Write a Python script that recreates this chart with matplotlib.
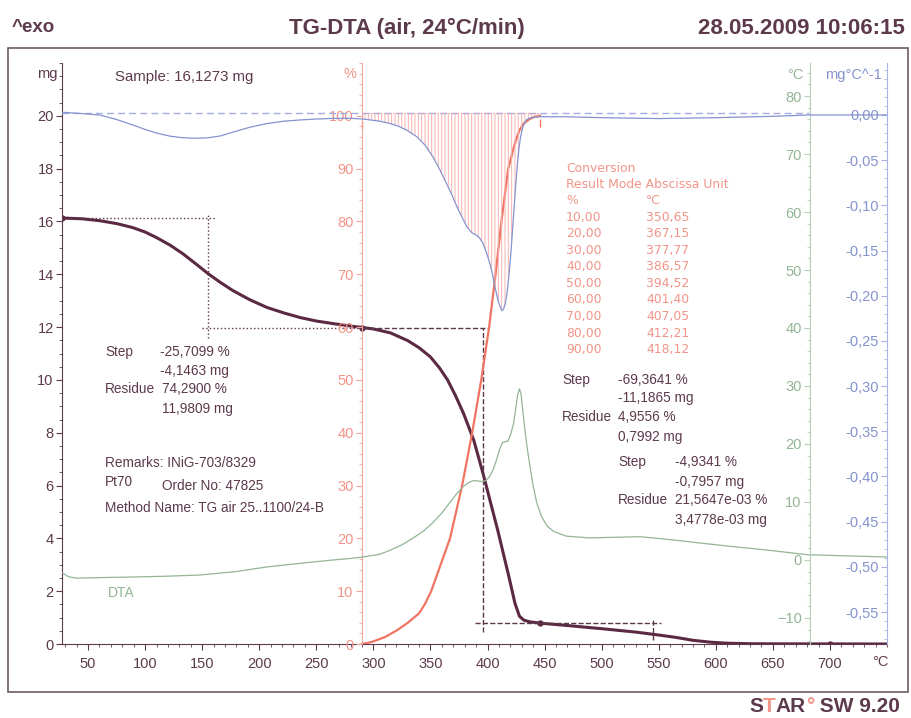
import numpy as np
import matplotlib
matplotlib.use('Agg')
import matplotlib.pyplot as plt
from matplotlib.ticker import MultipleLocator, FixedLocator, FuncFormatter
from matplotlib.patches import Rectangle

W, H = 912, 718

plt.rcParams['font.family'] = ['Liberation Sans', 'DejaVu Sans']
plt.rcParams['hatch.linewidth'] = 0.7

# kleuren
c_tg = '#5b2a42'
c_txt = '#5c3a4c'
c_red = '#f07462'
c_red_lbl = '#f29488'
c_green = '#93b595'
c_blue = '#8593cf'
c_frame = '#6d5c6a'

tg_temp = [27.5, 45, 60, 75, 89, 100, 110, 122, 133, 144, 155, 166, 177, 192, 207, 222,
           236, 250, 265, 280, 291, 300, 315, 330, 340, 350, 358, 365, 372, 379, 388, 396,
           403, 409, 414, 419, 424, 428, 432, 437, 446, 470, 500, 530, 550, 565, 580, 595,
           610, 630, 660, 700, 750]
tg_mg = [16.13, 16.1, 16.03, 15.92, 15.77, 15.6, 15.39, 15.1, 14.78, 14.41, 14.03, 13.69,
         13.38, 13.03, 12.74, 12.53, 12.36, 12.23, 12.13, 12.04, 11.98, 11.93, 11.78, 11.49,
         11.22, 10.87, 10.45, 10.0, 9.4, 8.73, 7.71, 6.47, 5.3, 4.3, 3.4, 2.5, 1.55, 1.05,
         0.9, 0.84, 0.79, 0.70, 0.58, 0.45, 0.34, 0.25, 0.14, 0.07, 0.03, 0.01, 0.005,
         0.0035, 0.0]

# conversie (%), tabelwaarden uit het rapport
conv_temp = [290, 295, 300, 310, 320, 330, 340, 345, 350.65, 367.15, 377.77, 386.57,
             394.52, 401.40, 407.05, 412.21, 418.12, 424, 428, 432, 437, 441, 446]
conv_pct = [0, 0.2, 0.5, 1.3, 2.5, 4.0, 5.8, 7.5, 10, 20, 30, 40, 50, 60, 70, 80, 90,
            94.8, 97.3, 98.6, 99.4, 99.8, 100]
conv_tab_pct = ['10,00', '20,00', '30,00', '40,00', '50,00', '60,00', '70,00', '80,00', '90,00']
conv_tab_temp = ['350,65', '367,15', '377,77', '386,57', '394,52', '401,40', '407,05',
                 '412,21', '418,12']

# DTG (mg/°C)
dtg_temp = [27.5, 45, 60, 75, 89, 100, 110, 122, 133, 143, 155, 166, 177, 192, 207, 222,
            236, 250, 265, 280, 291, 305, 314, 322, 329, 338, 345, 352, 358, 364, 369, 373,
            378, 382, 386, 390, 393, 396, 399, 402, 404.5, 406.5, 409, 411, 412.5, 414,
            415.5, 417, 418.5, 420, 421.5, 423, 424.5, 426, 427.5, 429, 431, 434, 438, 446,
            470, 500, 550, 600, 650, 682, 750]
dtg_val = [0.003, 0.0015, 0.0, -0.005, -0.011, -0.016, -0.020, -0.0235, -0.0252, -0.0258,
           -0.0253, -0.0232, -0.019, -0.0135, -0.0095, -0.0068, -0.0055, -0.0045, -0.0038,
           -0.0037, -0.0045, -0.0068, -0.0092, -0.0125, -0.0166, -0.024, -0.033, -0.046,
           -0.06, -0.0756, -0.089, -0.101, -0.114, -0.124, -0.13, -0.133, -0.136, -0.142,
           -0.152, -0.164, -0.177, -0.19, -0.204, -0.212, -0.2165, -0.215, -0.209, -0.198,
           -0.181, -0.16, -0.135, -0.108, -0.081, -0.057, -0.038, -0.024, -0.013, -0.0055,
           -0.003, -0.002, -0.002, -0.003, -0.004, -0.003, -0.0015, 0.0, 0.0]
dtg_base = 0.002

# DTA (°C)
dta_temp = [27.5, 33, 40, 60, 89, 120, 148, 180, 207, 240, 265, 280, 291, 306, 315, 325,
            335, 344, 352, 360, 367, 373, 379, 384, 388, 392, 396, 399, 402, 405, 408,
            410.5, 413, 415.5, 418, 420.5, 423, 425, 426.5, 428, 429.5, 431, 433, 435, 437,
            440, 443, 447, 452, 458, 469, 490, 510, 534, 560, 587, 615, 645, 680, 750]
dta_val = [-2.25, -2.9, -3.15, -3.05, -2.95, -2.8, -2.6, -2.0, -1.2, -0.5, 0.0, 0.25, 0.5,
           1.0, 1.7, 2.6, 3.8, 5.0, 6.4, 8.1, 9.9, 11.4, 12.7, 13.4, 13.7, 13.6, 13.5, 13.8,
           14.4, 15.6, 17.3, 19.0, 20.2, 20.4, 20.5, 21.8, 23.7, 26.5, 28.6, 29.5, 28.5,
           25.5, 22.0, 19.0, 16.4, 12.8, 10.0, 7.6, 5.9, 4.9, 4.1, 3.8, 3.9, 4.0, 3.5, 2.9,
           2.3, 1.7, 0.9, 0.5]

# stappen (evaluatie)
step_marks_temp = [27.5, 290, 446, 700]
step_marks_mg = [16.13, 11.98, 0.79, 0.0035]


def px(x, y):
    return x / W, 1 - y / H


fig = plt.figure(figsize=(W / 100, H / 100), dpi=100)
fig.patches.append(Rectangle(px(8, 692), 900 / W, 644 / H, transform=fig.transFigure,
                             fill=False, edgecolor=c_frame, lw=1.2))

ax = fig.add_axes([62 / W, 1 - 644 / H, 825 / W, 581 / H])
ax.set_xlim(27.2, 750)
ax.set_ylim(0, 22)
ax.patch.set_visible(False)
ax.set_zorder(3)
for s in ['top', 'right']:
    ax.spines[s].set_visible(False)
for s in ['left', 'bottom']:
    ax.spines[s].set_color(c_txt)
ax.xaxis.set_major_locator(FixedLocator(range(50, 701, 50)))
ax.xaxis.set_minor_locator(MultipleLocator(10))
ax.yaxis.set_major_locator(FixedLocator(range(0, 21, 2)))
ax.yaxis.set_minor_locator(MultipleLocator(0.5))
ax.tick_params(which='both', colors=c_txt, labelcolor=c_txt, direction='out', labelsize=10.5, pad=2)
ax.tick_params(which='major', length=4)
ax.tick_params(which='minor', length=2.5)
ax.tick_params(axis='x', pad=5)


def side_axis(pos, color, lblcolor):
    a = ax.twinx()
    for s in ['top', 'bottom', 'right']:
        a.spines[s].set_visible(False)
    a.spines['left'].set_visible(True)
    a.spines['left'].set_position(('axes', pos))
    a.spines['left'].set_color(color)
    a.yaxis.tick_left()
    a.patch.set_visible(False)
    a.tick_params(axis='y', which='both', colors=color, labelcolor=lblcolor, direction='out',
                  labelsize=10.5, pad=2)
    a.tick_params(which='major', length=4)
    a.tick_params(which='minor', length=2.5)
    return a


ax_p = side_axis((362 - 62) / 825, '#f4a59c', c_red_lbl)
ax_p.set_ylim(0, 110)
ax_p.yaxis.set_major_locator(FixedLocator(range(0, 101, 10)))
ax_p.yaxis.set_minor_locator(MultipleLocator(2))

ax_g = side_axis((810 - 62) / 825, '#b5cdb6', c_green)
ax_g.set_ylim(-14.5, 85.7)
ax_g.yaxis.set_major_locator(FixedLocator(range(-10, 81, 10)))
ax_g.yaxis.set_minor_locator(MultipleLocator(2))

ax_b = side_axis(1.0, '#a9b2e0', c_blue)
ax_b.set_ylim(-0.5854, 0.0575)
ax_b.yaxis.set_major_locator(FixedLocator(np.arange(-0.55, 0.001, 0.05)))
ax_b.yaxis.set_minor_locator(MultipleLocator(0.01))
ax_b.yaxis.set_major_formatter(FuncFormatter(lambda v, _: f"{v:.2f}".replace('.', ',').replace('-0,00', '0,00')))

# DTA
ax_g.plot(dta_temp, dta_val, color=c_green, lw=0.9)

# DTG met gearceerd piekoppervlak
ax_b.plot([27.2, 682], [dtg_base, dtg_base], ls=(0, (5, 3)), color='#a4ade0', lw=1.0)
dt = np.array(dtg_temp)
dv = np.array(dtg_val)
sel = (dt >= 290) & (dt <= 446)
ax_b.fill_between(dt[sel], dv[sel], dtg_base, facecolor='none', edgecolor='#f7b4b0',
                  hatch='|' * 5, lw=0)
ax_b.plot([dt[sel][0], dt[sel][-1]], [dtg_base, dtg_base], color='#f4a0a0', lw=0.8, ls=':')
ax_b.plot(dtg_temp, dtg_val, color=c_blue, lw=0.9)

# conversie
ax_p.plot(conv_temp, conv_pct, color=c_red, lw=1.6)
ax_p.plot([290, 446], [98.3, 98.6], ls='none', marker='|', ms=6, color=c_red)

# TG + stappen
ax.plot(tg_temp, tg_mg, color=c_tg, lw=2.2)
ax.plot(step_marks_temp, step_marks_mg, ls='none', marker='o', ms=3.5, color=c_tg)
ax.plot([27.2, 161], [16.13, 16.13], ls=':', color=c_txt, lw=1)
ax.plot([155, 155], [11.6, 16.3], ls=':', color=c_txt, lw=1)
ax.plot([150, 290], [11.98, 11.98], ls=':', color=c_txt, lw=1)
ax.plot([290, 400], [11.98, 11.98], ls='--', color=c_txt, lw=1)
ax.plot([396, 396], [0.45, 11.98], ls='--', color=c_txt, lw=1)
ax.plot([389, 552], [0.79, 0.79], ls='--', color=c_txt, lw=1)
ax.plot([545, 545], [0.15, 0.9], ls='--', color=c_txt, lw=1)

# kopregel
hdr = dict(fontsize=16, weight='bold', color=c_txt, va='center')
fig.text(*px(12, 28), '^exo', ha='left', **dict(hdr, fontsize=13.5))
fig.text(*px(407, 28), 'TG-DTA (air, 24°C/min)', ha='center', **hdr)
fig.text(*px(905, 28), '28.05.2009 10:06:15', ha='right', **hdr)

# STAR SW
star = dict(fontsize=15, weight='bold', va='baseline', ha='left')
t = fig.text(*px(749, 712), 'S', color=c_txt, **star)
for s, col in [('T', c_red_lbl), ('AR', c_txt), ('°', c_red_lbl), (' SW 9.20', c_txt)]:
    t = ax.annotate(s, xy=(1, 0), xycoords=t, color=col, annotation_clip=False,
                    fontsize=15, weight='bold', va='bottom', ha='left')

# aslabels
fig.text(*px(47, 74), 'mg', ha='center', va='center', fontsize=10.5, color=c_txt)
fig.text(*px(350, 74), '%', ha='center', va='center', fontsize=10.5, color=c_red_lbl)
fig.text(*px(795, 75), '°C', ha='center', va='center', fontsize=10.5, color=c_green)
fig.text(*px(882, 75), 'mg°C^-1', ha='right', va='center', fontsize=10.5, color=c_blue)
fig.text(*px(880, 662), '°C', ha='center', va='center', fontsize=10.5, color=c_txt)

# annotaties
an = dict(fontsize=9.8, color=c_txt, va='center', ha='left')
fig.text(*px(115, 77), 'Sample: 16,1273 mg', **dict(an, fontsize=10.8))
for x, y, s in [(105, 352, 'Step'), (160, 352, '-25,7099 %'), (160, 371, '-4,1463 mg'),
                (105, 389, 'Residue'), (162, 389, '74,2900 %'), (162, 409, '11,9809 mg'),
                (105, 463, 'Remarks: INiG-703/8329'), (105, 482, 'Pt70'),
                (162, 486, 'Order No: 47825'), (105, 508, 'Method Name: TG air 25..1100/24-B'),
                (562, 380, 'Step'), (618, 380, '-69,3641 %'), (618, 398, '-11,1865 mg'),
                (562, 417, 'Residue'), (618, 417, '4,9556 %'), (618, 437, '0,7992 mg'),
                (618, 462, 'Step'), (675, 462, '-4,9341 %'), (675, 482, '-0,7957 mg'),
                (618, 500, 'Residue'), (675, 500, '21,5647e-03 %'), (675, 520, '3,4778e-03 mg')]:
    fig.text(*px(x, y), s, **an)
fig.text(*px(108, 593), 'DTA', ha='left', va='center', fontsize=10, color=c_green)

# conversietabel
tb = dict(fontsize=8.9, color=c_red_lbl, va='center', ha='left', family='DejaVu Sans')
fig.text(*px(566, 168), 'Conversion', **tb)
fig.text(*px(566, 185), 'Result Mode Abscissa Unit', **tb)
fig.text(*px(566, 201), '%', **tb)
fig.text(*px(646, 201), '°C', **tb)
for i, (p, tc) in enumerate(zip(conv_tab_pct, conv_tab_temp)):
    y = 217 + i * 16.6
    fig.text(*px(566, y), p, **tb)
    fig.text(*px(646, y), tc, **tb)

fig.savefig('out.png', dpi=100, facecolor='white')
